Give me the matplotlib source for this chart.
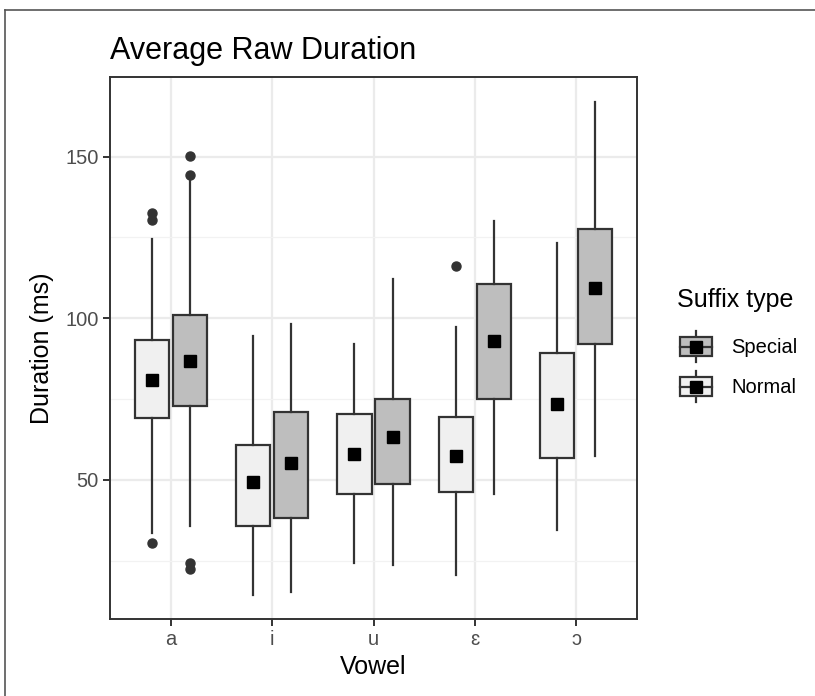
import matplotlib
matplotlib.use("Agg")
import matplotlib.pyplot as plt
from matplotlib.patches import Rectangle
from matplotlib.lines import Line2D
from matplotlib.legend_handler import HandlerBase
from matplotlib.ticker import MultipleLocator

plt.rcParams["font.family"] = ["Liberation Sans", "DejaVu Sans"]

vowels = ["a", "i", "u", "ɛ", "ɔ"]
groups = ["Normal", "Special"]

# box stats (ms)
normal_lo = [33.5, 14.5, 24.4, 20.6, 34.5]
normal_q1 = [69.1, 35.8, 45.6, 46.4, 56.9]
normal_mean = [80.9, 49.3, 58.0, 57.3, 73.4]
normal_q3 = [93.3, 60.8, 70.4, 69.6, 89.2]
normal_hi = [124.5, 94.6, 92.1, 97.2, 123.2]
normal_out = [[30.4, 130.3, 132.7], [], [], [116.2], []]

special_lo = [35.8, 15.3, 23.7, 45.7, 57.4]
special_q1 = [72.9, 38.1, 48.8, 75.0, 92.1]
special_mean = [86.9, 55.1, 63.4, 93.1, 109.5]
special_q3 = [101.0, 70.9, 75.0, 110.5, 127.5]
special_hi = [143.0, 98.1, 112.2, 130.2, 167.0]
special_out = [[22.4, 24.2, 144.2, 150.3], [], [], [], []]

fills = {"Normal": "#F0F0F0", "Special": "#BEBEBE"}
edge = "#333333"

fig = plt.figure(figsize=(8.15, 6.96), dpi=100)
ax = fig.add_axes([110 / 815, 1 - 619 / 696, 527 / 815, 542 / 696])


def make_stats(lo, q1, mean, q3, hi, out):
    return [dict(whislo=lo[k], q1=q1[k], med=mean[k], mean=mean[k], q3=q3[k],
                 whishi=hi[k], fliers=out[k]) for k in range(len(lo))]


series = {
    "Normal": make_stats(normal_lo, normal_q1, normal_mean, normal_q3, normal_hi, normal_out),
    "Special": make_stats(special_lo, special_q1, special_mean, special_q3, special_hi, special_out),
}
offsets = {"Normal": -0.1875, "Special": 0.1875}

for g in groups:
    pos = [k + offsets[g] for k in range(len(vowels))]
    ax.bxp(series[g], positions=pos, widths=0.3375, patch_artist=True,
           showcaps=False, showmeans=True, manage_ticks=False,
           boxprops=dict(facecolor=fills[g], edgecolor=edge, linewidth=1.6),
           whiskerprops=dict(color=edge, linewidth=1.6),
           medianprops=dict(linewidth=0),
           flierprops=dict(marker="o", markerfacecolor=edge, markeredgecolor=edge,
                           markersize=6.5),
           meanprops=dict(marker="s", markerfacecolor="black", markeredgecolor="black",
                          markersize=8.5),
           zorder=3)

ax.set_xlim(-0.6, len(vowels) - 0.4)
ax.set_ylim(7.0, 174.6)
ax.set_xticks(range(len(vowels)))
ax.set_xticklabels(vowels)
ax.yaxis.set_major_locator(MultipleLocator(50))
ax.yaxis.set_minor_locator(MultipleLocator(25))
ax.grid(True, which="major", color="#EBEBEB", linewidth=1.6, zorder=0)
ax.grid(True, which="minor", axis="y", color="#F2F2F2", linewidth=0.9, zorder=0)
ax.set_axisbelow(True)
ax.tick_params(which="major", length=5, width=1.4, color=edge, labelsize=14.5,
               labelcolor="#4D4D4D", pad=3)
ax.tick_params(which="minor", length=0)
for s in ax.spines.values():
    s.set_color(edge)
    s.set_linewidth(1.4)

ax.set_xlabel("Vowel", fontsize=18, labelpad=4)
ax.set_ylabel("Duration (ms)", fontsize=18, labelpad=8)
ax.set_title("Average Raw Duration", fontsize=22, loc="left", pad=13)


class BoxKey(HandlerBase):
    def create_artists(self, legend, orig, xd, yd, width, height, fontsize, trans):
        x0, y0 = -xd, -yd
        cx, cy = x0 + width / 2, y0 + height / 2
        whisk = Line2D([cx, cx], [y0 + 0.05 * height, y0 + 0.95 * height],
                       color=edge, linewidth=1.6, transform=trans)
        box = Rectangle((x0 + 0.125 * width, y0 + 0.22 * height), 0.75 * width,
                        0.56 * height, facecolor=orig.get_facecolor(), edgecolor=edge,
                        linewidth=1.6, transform=trans)
        med = Line2D([x0 + 0.125 * width, x0 + 0.875 * width], [cy, cy],
                     color=edge, linewidth=1.6, transform=trans)
        sq = Line2D([cx], [cy], marker="s", markersize=8.5, color="black",
                    linestyle="none", transform=trans)
        return [whisk, box, med, sq]


# legend title placed on its own, ggplot leaves a wider gap under it
fig.text(677 / 815, 1 - 300 / 696, "Suffix type", fontsize=18, ha="left", va="center")
handles = [Rectangle((0, 0), 1, 1, facecolor=fills[g]) for g in ["Special", "Normal"]]
leg = fig.legend(handles, ["Special", "Normal"],
                 handler_map={Rectangle: BoxKey()}, loc="upper left",
                 bbox_to_anchor=(675 / 815, 1 - 329 / 696), frameon=False,
                 fontsize=14.5, handlelength=2.1, handleheight=2.3,
                 handletextpad=0.7, labelspacing=0.25, borderpad=0, borderaxespad=0)

# screenshot frame (top and left edges only)
fig.add_artist(Line2D([5 / 815, 5 / 815], [0, 1 - 10 / 696], color="#555555",
                      linewidth=1.2, transform=fig.transFigure))
fig.add_artist(Line2D([5 / 815, 1], [1 - 10 / 696, 1 - 10 / 696], color="#555555",
                      linewidth=1.2, transform=fig.transFigure))

fig.savefig("out.png", dpi=100)
